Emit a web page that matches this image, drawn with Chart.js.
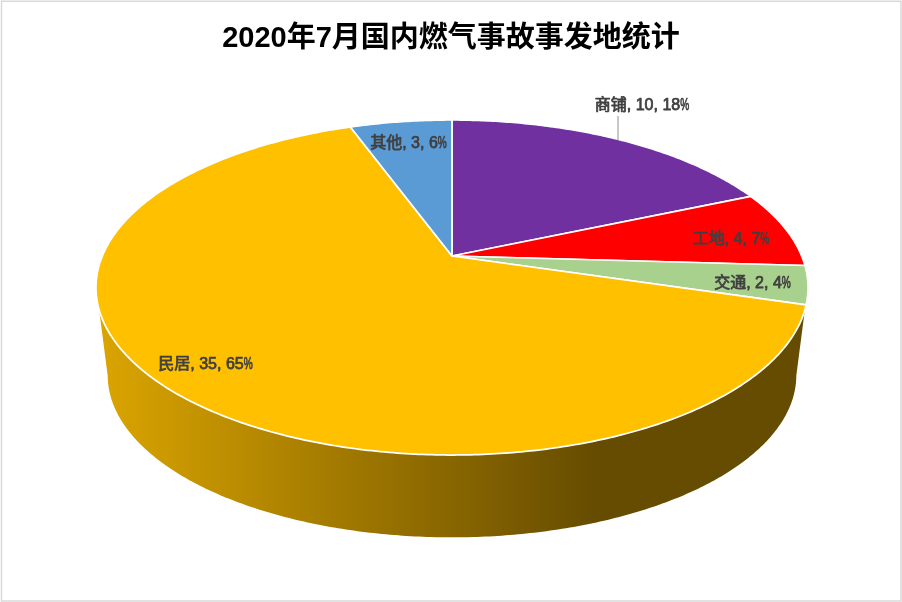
<!DOCTYPE html>
<html>
<head>
<meta charset="utf-8">
<style>
  body { margin: 0; background: #fff; }
  canvas { display: block; }
</style>
<script src="https://cdn.jsdelivr.net/npm/chart.js@4/dist/chart.umd.min.js"></script>
</head>
<body>
<canvas id="myChart" width="902" height="602"></canvas>
<script>
const titleText = '2020年7月国内燃气事故事发地统计';
const categories = ['商铺', '工地', '交通', '民居', '其他'];
const counts = [10, 4, 2, 35, 3];
const percents = [18, 7, 4, 65, 6];
const sliceColors = ['#7030a0', '#ff0000', '#a9d18e', '#ffc000', '#5b9bd5'];

// where each label text is centred
const labelSpots = [[642, 106], [731, 240], [752.5, 284], [205.5, 365], [408.5, 144]];

const fontFamily = '"Liberation Sans", "Noto Sans CJK SC", sans-serif';

// perspective of the tilted disc
const view = { cx: 452, cy: 256, a: 349.7, b: 161.6, k: 0.188, nadirY: 2950, depth: 0.967 };
const deg = Math.PI / 180;
const frontFrom = 108.3 * deg;
const frontTo = 251.7 * deg;
const baseFrom = 101 * deg;
const baseTo = 259 * deg;

function project(theta, s) {
  const X = Math.sin(theta), Y = Math.cos(theta);
  const w = 1 + view.k * Y;
  const x = view.cx + view.a * X / w;
  const y = view.cy - view.b * Y / w;
  return [view.cx + (x - view.cx) * s, view.nadirY + (y - view.nadirY) * s];
}

function rim(ctx, from, to, s) {
  const steps = Math.max(2, Math.ceil(Math.abs(to - from) / 0.01));
  for (let i = 0; i <= steps; i++) {
    const p = project(from + (to - from) * i / steps, s);
    ctx.lineTo(p[0], p[1]);
  }
}

function drawLabel(ctx, i) {
  const head = categories[i] + ', ' + counts[i] + ', ' + percents[i];
  const pctWidth = 9;
  const w = ctx.measureText(head).width + pctWidth;
  const x = labelSpots[i][0] - w / 2;
  const y = labelSpots[i][1];
  ctx.fillText(head, x, y);
  ctx.strokeText(head, x, y);
  // the percent sign is squeezed in the original
  ctx.fillText('%', x + w - pctWidth, y, pctWidth);
  ctx.strokeText('%', x + w - pctWidth, y, pctWidth);
}

const tiltedPie = {
  id: 'tiltedPie',
  beforeDatasetDraw(chart, args) {
    const ctx = chart.ctx;
    const arcs = args.meta.data;
    ctx.save();

    // frame
    ctx.strokeStyle = '#d9d9d9';
    ctx.lineWidth = 1.5;
    ctx.strokeRect(1.5, 1.25, 899.5, 599.75);

    // side wall, only the front part of the disc shows
    arcs.forEach(function(arc) {
      const from = arc.startAngle + Math.PI / 2;
      const to = arc.endAngle + Math.PI / 2;
      if (Math.min(to, frontTo) <= Math.max(from, frontFrom)) return;
      const g = ctx.createLinearGradient(98, 0, 808, 0);
      g.addColorStop(0, '#dba500');
      g.addColorStop(0.7, '#664c00');
      g.addColorStop(1, '#664c00');
      ctx.fillStyle = g;
      ctx.beginPath();
      rim(ctx, Math.max(from, frontFrom), Math.min(to, frontTo), 1);
      rim(ctx, baseTo, baseFrom, view.depth);
      ctx.closePath();
      ctx.fill();
    });

    // top face
    ctx.lineJoin = 'round';
    arcs.forEach(function(arc, i) {
      ctx.beginPath();
      ctx.moveTo(view.cx, view.cy);
      rim(ctx, arc.startAngle + Math.PI / 2, arc.endAngle + Math.PI / 2, 1);
      ctx.closePath();
      ctx.fillStyle = sliceColors[i];
      ctx.fill();
      ctx.strokeStyle = '#fff';
      ctx.lineWidth = 1.75;
      ctx.stroke();
    });

    // leader of the outside label
    ctx.strokeStyle = '#a6a6a6';
    ctx.lineWidth = 1.25;
    ctx.beginPath();
    ctx.moveTo(618, 116);
    ctx.lineTo(618, 140);
    ctx.stroke();

    // labels
    ctx.font = '16px ' + fontFamily;
    ctx.fillStyle = '#404040';
    ctx.strokeStyle = '#404040';
    ctx.lineWidth = 0.75;
    ctx.textAlign = 'left';
    ctx.textBaseline = 'middle';
    categories.forEach(function(name, i) {
      drawLabel(ctx, i);
    });

    ctx.restore();
    return false;
  }
};

new Chart(document.getElementById('myChart'), {
  type: 'pie',
  data: {
    labels: categories,
    datasets: [{
      data: counts,
      backgroundColor: sliceColors
    }]
  },
  options: {
    responsive: false,
    animation: false,
    plugins: {
      legend: { display: false },
      tooltip: { enabled: false },
      title: {
        display: true,
        text: titleText,
        color: '#000',
        font: { family: fontFamily, size: 29, weight: 'bold' },
        padding: { top: 22, bottom: 10 }
      }
    }
  },
  plugins: [tiltedPie]
});
</script>
</body>
</html>
